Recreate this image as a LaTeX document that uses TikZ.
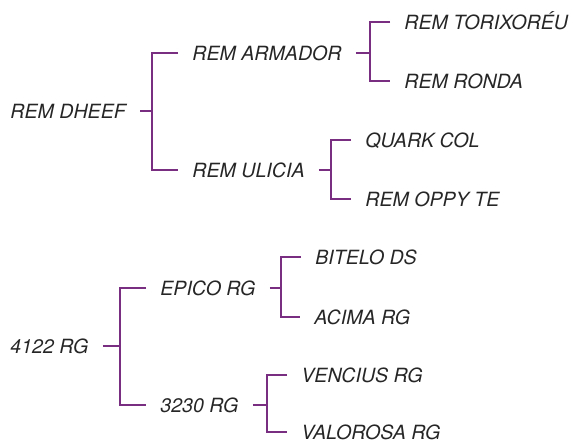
\documentclass[tikz,border=0pt]{standalone}
\usepackage{fontspec}
\setmainfont{TeX Gyre Heros}
\usetikzlibrary{positioning, calc}
\usepackage{xcolor}
\definecolor{Plum}{HTML}{7A2E82}

\begin{document}
\begin{tikzpicture}[x=0.5pt, y=-0.5pt,
        lbl/.style={anchor=west, inner sep=0pt, text height=7pt, text depth=0pt,
            font=\fontsize{9.8}{12}\selectfont\itshape, text=black!85},
        brk/.style={Plum, line width=0.9pt}]
        \useasboundingbox (0,0) rectangle (573,441);
        % upper tree
        \node[lbl] (dheef) at (10,111) {REM DHEEF};
        \node[lbl] (armador) at (192,53) {REM ARMADOR};
        \node[lbl] (ulicia) at (192,170) {REM ULICIA};
        \node[lbl] (torixoreu) at (404,22) {REM TORIXORÉU};
        \node[lbl] (ronda) at (404,81) {REM RONDA};
        \node[lbl] (quark) at (365,140) {QUARK COL};
        \node[lbl] (oppy) at (365,199) {REM OPPY TE};
        % lower tree
        \node[lbl] (rg4122) at (10,346) {4122 RG};
        \node[lbl] (epico) at (160,288) {EPICO RG};
        \node[lbl] (rg3230) at (160,405) {3230 RG};
        \node[lbl] (bitelo) at (315,257) {BITELO DS};
        \node[lbl] (acima) at (314,317) {ACIMA RG};
        \node[lbl] (vencius) at (301,375) {VENCIUS RG};
        \node[lbl] (valorosa) at (301,432) {VALOROSA RG};
        % brackets
        \foreach \p/\a/\b/\d in {dheef/armador/ulicia/20pt, armador/torixoreu/ronda/17pt,
            ulicia/quark/oppy/17pt, rg4122/epico/rg3230/20pt,
            epico/bitelo/acima/17pt, rg3230/vencius/valorosa/17pt}{
            \draw[brk] ([xshift=7pt]\p.east) -| ([xshift=-\d]\a.west);
            \draw[brk] ([xshift=-7pt]\a.west) -- ([xshift=-\d]\a.west) |- ([xshift=-7pt]\b.west);
        }
    \end{tikzpicture}
\end{document}
